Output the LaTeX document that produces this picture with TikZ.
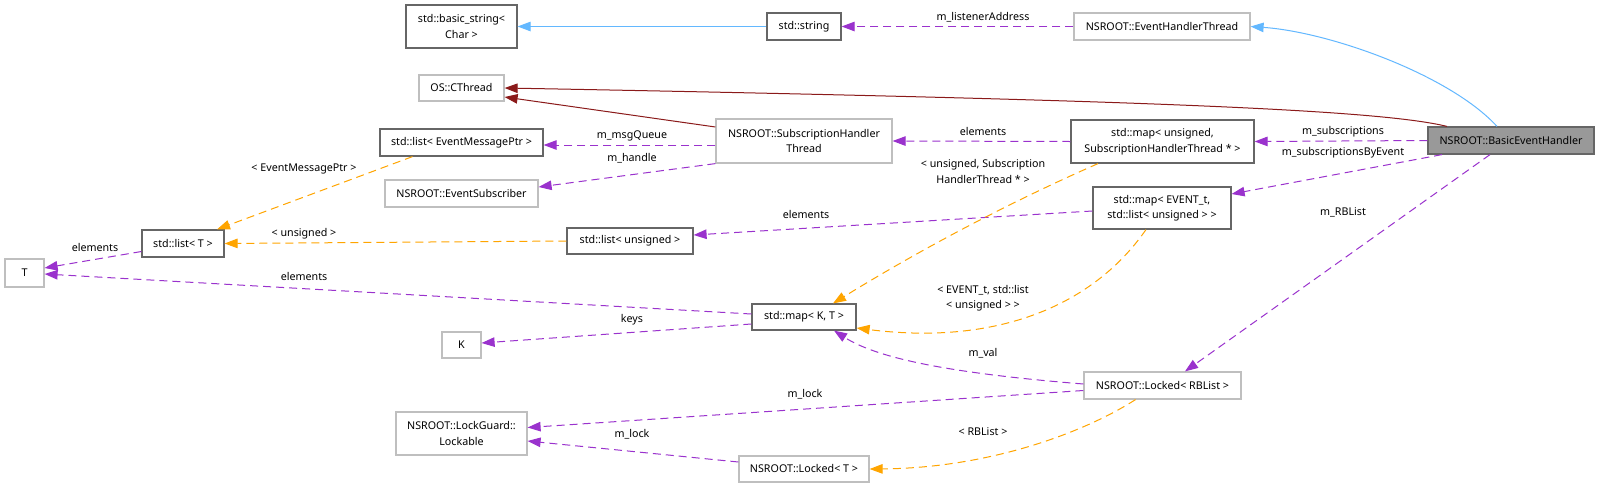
\documentclass[tikz,border=0pt]{standalone}
\usepackage{fontspec}
\setmainfont{Noto Sans}
\usetikzlibrary{arrows.meta,calc}
\definecolor{purp}{HTML}{9A32CD}
\definecolor{dred}{HTML}{8B1A1A}
\definecolor{lblue}{HTML}{63B8FF}
\definecolor{orng}{HTML}{FFA500}
\definecolor{dgray}{HTML}{666666}
\definecolor{lgray}{HTML}{BFBFBF}
\definecolor{begray}{HTML}{999999}
\begin{document}
\begin{tikzpicture}[x=1pt,y=-1pt,
  font=\fontsize{10.7}{15.5}\selectfont,
  dbox/.style={draw=dgray, line width=1.2pt, align=center, inner sep=0pt, fill=white},
  lbox/.style={draw=lgray, line width=1.2pt, align=center, inner sep=0pt, fill=white},
  lbl/.style={inner sep=0pt, align=center},
  tipa/.style={-{Triangle[length=13pt,width=9.5pt]}},
  mem/.style={tipa, draw=purp, line width=1pt, dash pattern=on 8pt off 5pt},
  tmpl/.style={tipa, draw=orng, line width=1pt, dash pattern=on 8pt off 5pt},
  inh/.style={tipa, draw=lblue, line width=1pt},
  usebr/.style={tipa, draw=dred, line width=1pt}
]
\useasboundingbox (0,0) rectangle (1599,488);
\fill[white] (0,0) rectangle (1599,488);

% nodes
\node[dbox, minimum width=111pt, minimum height=43pt] (bs) at (461.5,26.5) {std::basic\_string<\\Char >};
\node[dbox, minimum width=74pt, minimum height=27pt] (str) at (804,26.5) {std::string};
\node[lbox, minimum width=176pt, minimum height=27pt] (eht) at (1162,26.5) {NSROOT::EventHandlerThread};
\node[lbox, minimum width=85pt, minimum height=26pt] (cth) at (461.5,88) {OS::CThread};
\node[dbox, minimum width=163pt, minimum height=27pt] (lemp) at (461.5,142.5) {std::list< EventMessagePtr >};
\node[lbox, minimum width=153pt, minimum height=27pt] (esub) at (461.5,193.5) {NSROOT::EventSubscriber};
\node[lbox, minimum width=176pt, minimum height=44pt] (sht) at (804,141) {NSROOT::SubscriptionHandler\\Thread};
\node[dbox, minimum width=183pt, minimum height=43pt] (mapu) at (1162.5,141.5) {std::map< unsigned,\\SubscriptionHandlerThread * >};
\node[draw=dgray, fill=begray, line width=1.2pt, inner sep=0pt, minimum width=166pt, minimum height=27pt] (beh) at (1511,140.5) {NSROOT::BasicEventHandler};
\node[dbox, minimum width=138pt, minimum height=42pt] (mapev) at (1162,208) {std::map< EVENT\_t,\\std::list< unsigned > >};
\node[dbox, minimum width=126pt, minimum height=26pt] (lu) at (630,241) {std::list< unsigned >};
\node[dbox, minimum width=82pt, minimum height=27pt] (lt) at (183,243.5) {std::list< T >};
\node[lbox, minimum width=39pt, minimum height=28pt] (T) at (24.5,273) {T};
\node[dbox, minimum width=104pt, minimum height=26pt] (mkt) at (804,317) {std::map< K, T >};
\node[lbox, minimum width=39pt, minimum height=26pt] (K) at (461.5,345) {K};
\node[lbox, minimum width=131pt, minimum height=43pt] (lock) at (461.5,433.5) {NSROOT::LockGuard::\\Lockable};
\node[lbox, minimum width=157pt, minimum height=27pt] (lrb) at (1162.5,385.5) {NSROOT::Locked< RBList >};
\node[lbox, minimum width=130pt, minimum height=26pt] (lt2) at (804,469) {NSROOT::Locked< T >};

% edges
\draw[inh] ($(beh.north)+(-14,0)$) .. controls (1450,75) and (1330,32) .. (eht.east);
\draw[inh] (str.west) -- (bs.east);
\draw[mem] (eht.west) -- (str.east);
\draw[usebr] ($(beh.north)+(-64,0)$) .. controls (1380,110) and (1150,100) .. (cth.east);
\draw[usebr] ($(sht.west)+(0,-14)$) -- ($(cth.east)+(0,9)$);
\draw[mem] ($(sht.west)+(0,4)$) -- ($(lemp.east)+(0,2.5)$);
\draw[mem] (sht.south west) -- ($(esub.east)+(0,-6.5)$);
\draw[mem] (mapu.west) -- (sht.east);
\draw[mem] (beh.west) -- (mapu.east);
\draw[mem] ($(beh.south)+(-69,0)$) -- ($(mapev.east)+(0,-14)$);
\draw[mem] ($(beh.south)+(-21,0)$) -- ($(lrb.north)+(22.5,0)$);
\draw[mem] ($(mapev.west)+(0,3)$) -- ($(lu.east)+(0,-6)$);
\draw[tmpl] (lu.west) -- (lt.east);
\draw[tmpl] ($(lemp.south)+(-49,0)$) -- ($(lt.north)+(34,0)$);
\draw[mem] ($(lt.west)+(0,8)$) -- ($(T.east)+(0,-5)$);
\draw[mem] ($(mkt.west)+(0,-3)$) -- ($(T.east)+(0,1)$);
\draw[mem] ($(mkt.west)+(0,7)$) -- ($(K.east)+(0,-2)$);
\draw[tmpl] ($(mapu.south)+(-64.5,0)$) .. controls (1006,204) and (918,251) .. ($(mkt.north)+(29,0)$);
\draw[tmpl] ($(mapev.south)+(-16,0)$) .. controls (1090,310) and (990,345) .. ($(mkt.east)+(0,11)$);
\draw[mem] ($(lrb.west)+(0,-1.5)$) .. controls (960,374) and (880,360) .. ($(mkt.south)+(30,0)$);
\draw[mem] ($(lrb.west)+(0,5)$) -- ($(lock.east)+(0,-6)$);
\draw[mem] ($(lt2.west)+(0,-7)$) -- ($(lock.east)+(0,7.5)$);
\draw[tmpl] ($(lrb.south)+(-27,0)$) .. controls (1085,432) and (990,468) .. (lt2.east);

% labels
\node[lbl] (l3) at (983,17) {m\_listenerAddress};
\node[lbl] (l6) at (632,136) {m\_msgQueue};
\node[lbl] (l7) at (632,158) {m\_handle};
\node[lbl] (l8) at (983,131) {elements};
\node[lbl] (l9) at (1343,132) {m\_subscriptions};
\node[lbl] (l10) at (1343,153) {m\_subscriptionsByEvent};
\node[lbl] (l11) at (1343,212) {m\_RBList};
\node[lbl] (l12) at (806,214) {elements};
\node[lbl] (l13) at (304,234) {< unsigned >};
\node[lbl] (l14) at (304,169) {< EventMessagePtr >};
\node[lbl] (l15) at (95,247) {elements};
\node[lbl] (l16) at (304,276) {elements};
\node[lbl] (l17) at (632,320) {keys};
\node[lbl] (l18) at (983,171.5) {< unsigned, Subscription\\HandlerThread * >};
\node[lbl] (l19) at (983,298) {< EVENT\_t, std::list\\< unsigned > >};
\node[lbl] (l20) at (983,353) {m\_val};
\node[lbl] (l21) at (805,394) {m\_lock};
\node[lbl] (l22) at (632,434) {m\_lock};
\node[lbl] (l23) at (983,432) {< RBList >};
\end{tikzpicture}
\end{document}
